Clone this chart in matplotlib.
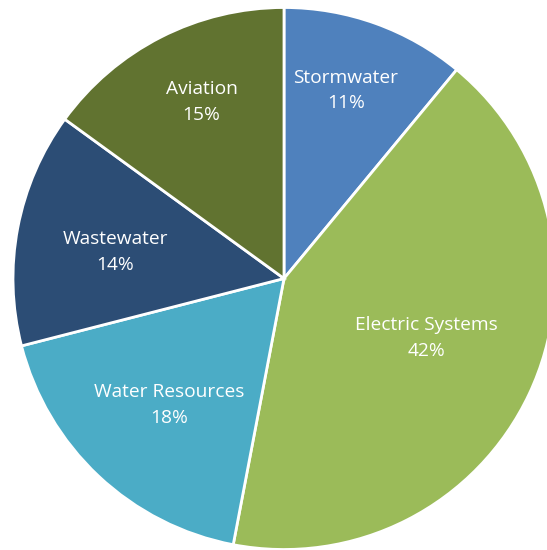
import matplotlib.pyplot as plt
import numpy as np

categories = ['Stormwater', 'Electric Systems', 'Water Resources', 'Wastewater', 'Aviation']
shares = [11, 42, 18, 14, 15]
colors = ['#4F81BD', '#9BBB59', '#4BACC6', '#2C4D75', '#617330']
# label placement: fraction of radius and angle nudge (deg) from the wedge middle
label_r = [0.73, 0.57, 0.63, 0.63, 0.72]
label_dt = [1.6, 2.6, 1.0, 1.8, -2.0]

W, H = 547, 550
fig = plt.figure(figsize=(W / 100, H / 100), dpi=100)
ax = fig.add_axes([0, 0, 1, 1])

cx, cy, R = 284, H - 278.5, 271
wedges, _ = ax.pie(shares, colors=colors, startangle=90, counterclock=False,
                   center=(cx, cy), radius=R, frame=True,
                   wedgeprops=dict(edgecolor='white', linewidth=2))
ax.set_xlim(0, W)
ax.set_ylim(0, H)
ax.set_aspect('equal')
ax.axis('off')

for w, name, pct, f, dt in zip(wedges, categories, shares, label_r, label_dt):
    mid = np.deg2rad((w.theta1 + w.theta2) / 2 + dt)
    x = cx + f * R * np.cos(mid)
    y = cy + f * R * np.sin(mid)
    ax.text(x, y, f'{name}\n{pct}%', color='white', ha='center', va='center',
            fontsize=13.8, family='Open Sans', linespacing=1.55)

fig.savefig('out.png', dpi=100)
